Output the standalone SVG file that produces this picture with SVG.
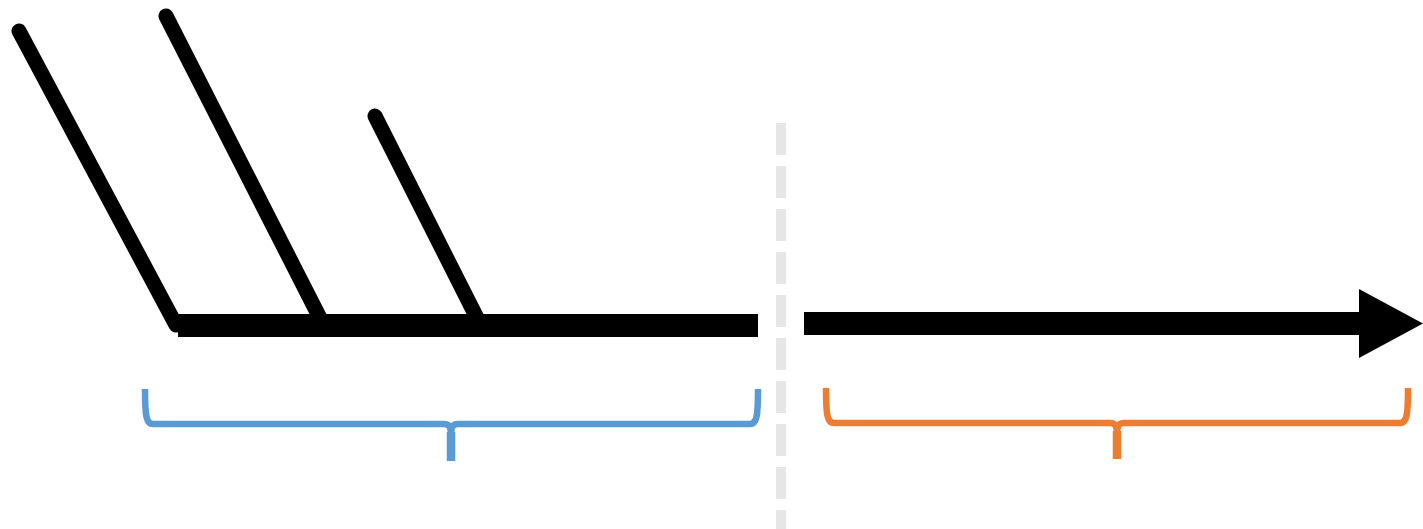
<svg xmlns="http://www.w3.org/2000/svg" width="1423" height="529" viewBox="0 0 1423 529">
<style>
.bone{stroke:#000;stroke-width:15;stroke-linecap:round;fill:none}
.brace{fill:none;stroke-width:6.5;stroke-linejoin:round}
.stem{fill:none;stroke-width:8.5}
</style>
<rect width="1423" height="529" fill="#fff"/>
<g id="divider">
<line x1="781" y1="123" x2="781" y2="529" stroke="#e6e6e6" stroke-width="10" stroke-dasharray="32 11"/>
</g>
<g id="connectors">
<line class="bone" x1="19" y1="31" x2="176" y2="325"/>
<line class="bone" x1="166" y1="16" x2="322" y2="322"/>
<line class="bone" x1="375" y1="116" x2="478" y2="320"/>
<rect x="178" y="314" width="580" height="23" fill="#000"/>
</g>
<g id="arrow">
<rect x="804" y="312" width="557" height="23" fill="#000"/>
<polygon points="1359,289 1423,323.5 1359,358" fill="#000"/>
</g>
<g id="brace-blue">
<path class="brace" stroke="#5b9bd5" d="M145,389 C145,415 146,424 153,424 L444,424 C449,424 451,427 451,434 C451,427 453,424 458,424 L750,424 C757,424 758,415 758,389"/>
<line class="stem" stroke="#5b9bd5" x1="451" y1="432" x2="451" y2="461"/>
</g>
<g id="brace-orange">
<path class="brace" stroke="#ed7d31" d="M826,388 C826,414 827,423 834,423 L1110,423 C1115,423 1117,426 1117,433 C1117,426 1119,423 1124,423 L1400,423 C1407,423 1408,414 1408,388"/>
<line class="stem" stroke="#ed7d31" x1="1117" y1="431" x2="1117" y2="459"/>
</g>
</svg>
